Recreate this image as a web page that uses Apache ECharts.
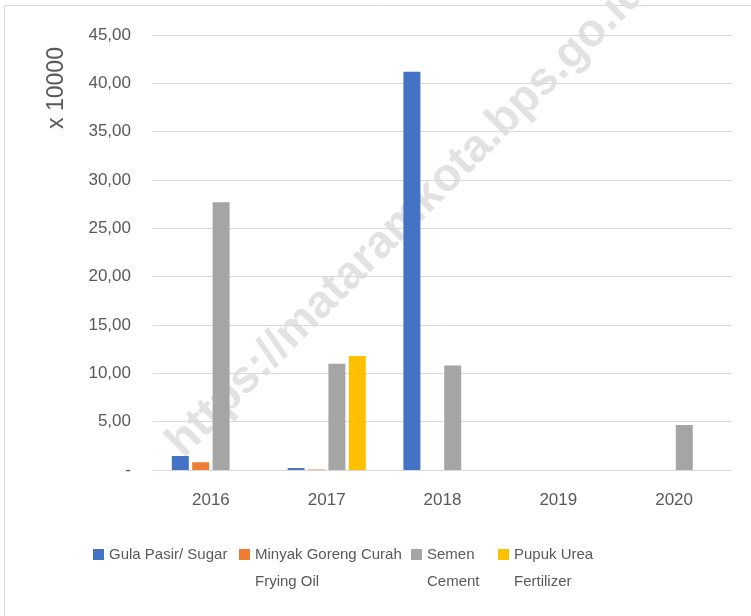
<!DOCTYPE html>
<html>
<head>
<meta charset="utf-8">
<script src="https://cdn.jsdelivr.net/npm/echarts@6/dist/echarts.min.js"></script>
<style>
  html, body { margin: 0; padding: 0; background: #fff; }
  #chart { width: 751px; height: 616px; }
</style>
</head>
<body>
<div id="chart"></div>
<script>
const years = ['2016', '2017', '2018', '2019', '2020']
const seriesNames = [
  'Gula Pasir/ Sugar',
  'Minyak Goreng Curah\nFrying Oil',
  'Semen\nCement',
  'Pupuk Urea\nFertilizer'
]
const sugar = [1.45, 0.2, 41.2, 0, 0]
const fryingOil = [0.8, 0.05, 0, 0, 0]
const cement = [27.7, 11.0, 10.8, 0, 4.65]
const urea = [0, 11.8, 0, 0, 0]
const colors = ['#4472C4', '#ED7D31', '#A5A5A5', '#FFC000']
const legendLeft = [93, 239, 411, 498]

const font = "'Liberation Sans', Arial, sans-serif"
const textColor = '#595959'

const chart = echarts.init(document.getElementById('chart'))

const values = [sugar, fryingOil, cement, urea]

// icon top should sit at y=548; two-line names get a leading blank line
// so the first real line stays centred on the icon
const legends = seriesNames.map((name, i) => {
  const twoLine = name.indexOf('\n') >= 0
  return {
    data: [name],
    left: legendLeft[i],
    top: twoLine ? 514 : 541,
    padding: 0,
    itemWidth: 11,
    itemHeight: 11,
    icon: 'rect',
    selectedMode: false,
    formatter: n => (twoLine ? ' \n' : '') + n,
    textStyle: { color: textColor, fontSize: 15, lineHeight: 27, fontFamily: font }
  }
})

const option = {
  animation: false,
  backgroundColor: '#fff',
  textStyle: { fontFamily: font },
  graphic: [
    {
      type: 'rect',
      shape: { x: 4.5, y: 5.5, width: 900, height: 800 },
      style: { fill: 'none', stroke: '#d9d9d9', lineWidth: 1 },
      z: -20
    },
    {
      type: 'text',
      x: 191,
      y: 466,
      rotation: Math.PI / 4,
      z: -10,
      style: {
        text: 'https://mataramkota.bps.go.id',
        fill: '#e2e2e2',
        font: "bold 46px 'Liberation Sans', Arial, sans-serif",
        align: 'left',
        verticalAlign: 'bottom'
      }
    },
    {
      type: 'text',
      x: 57,
      y: 88,
      rotation: Math.PI / 2,
      style: {
        text: 'x 10000',
        fill: textColor,
        font: "23px 'Liberation Sans', Arial, sans-serif",
        align: 'center',
        verticalAlign: 'middle'
      }
    }
  ],
  legend: legends,
  grid: { left: 153, right: 19, top: 35, bottom: 146 },
  xAxis: {
    type: 'category',
    data: years,
    axisLine: { lineStyle: { color: '#d9d9d9', width: 1 } },
    axisTick: { show: false },
    axisLabel: { color: textColor, fontSize: 17, margin: 22, fontFamily: font }
  },
  yAxis: {
    type: 'value',
    min: 0,
    max: 45,
    interval: 5,
    axisLine: { show: false },
    axisTick: { show: false },
    splitLine: { lineStyle: { color: '#d9d9d9', width: 1 } },
    axisLabel: {
      color: textColor,
      fontSize: 17,
      margin: 22,
      fontFamily: font,
      formatter: v => v === 0 ? '-' : v.toFixed(2).replace('.', ',')
    }
  },
  series: seriesNames.map((name, i) => ({
    name,
    type: 'bar',
    data: values[i],
    barWidth: 17,
    barGap: '20%',
    itemStyle: { color: colors[i] }
  }))
}

chart.setOption(option)
window.addEventListener('resize', () => chart.resize())
</script>
</body>
</html>
